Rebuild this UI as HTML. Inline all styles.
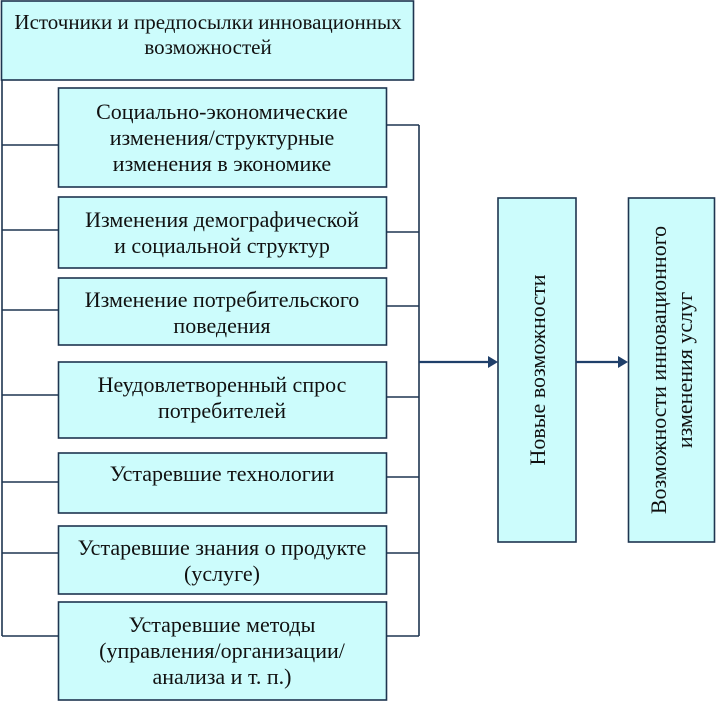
<!DOCTYPE html>
<html><head><meta charset="utf-8"><style>
body{margin:0;background:#fff;width:716px;height:703px;overflow:hidden}
svg text{font-family:"Liberation Serif",serif;font-size:22px;fill:#111}
</style></head><body>
<svg width="716" height="703" xmlns="http://www.w3.org/2000/svg">
<g fill="#ccfcfc" stroke="#1e3550" stroke-width="1.6">
<rect x="1.5" y="1" width="412" height="79"/>
<rect x="58.5" y="88" width="328" height="99"/>
<rect x="58.5" y="197" width="328" height="71"/>
<rect x="58.5" y="278" width="328" height="67"/>
<rect x="58.5" y="362" width="328" height="76"/>
<rect x="58.5" y="453" width="328" height="60"/>
<rect x="58.5" y="526" width="328" height="68"/>
<rect x="58.5" y="602" width="328" height="98"/>
<rect x="498" y="198" width="78" height="344"/>
<rect x="628.5" y="198" width="86" height="344"/>
</g>
<g stroke="#1e3550" stroke-width="1.6" fill="none">
<path d="M2 80V636"/>
<path d="M2 145H58M2 230H58M2 310H58M2 395H58M2 482H58M2 553H58M2 636H58"/>
<path d="M419 125V636"/>
<path d="M386 125H419M386 232H419M386 306H419M386 397H419M386 477H419M386 553H419M386 636H419"/>
<path d="M419 362H490M576 362H621" stroke="#1f3f6a" stroke-width="2.2"/>
</g>
<path d="M498 362L488 356V368Z M628 362L618 356V368Z" fill="#1f3f6a"/>
<g text-anchor="middle">
<text x="208" y="29" style="font-size:21px">Источники и предпосылки инновационных</text>
<text x="208" y="54" style="font-size:21px">возможностей</text>
<text x="222" y="119">Социально-экономические</text>
<text x="222" y="145">изменения/структурные</text>
<text x="222" y="171">изменения в экономике</text>
<text x="222" y="227">Изменения демографической</text>
<text x="222" y="253">и социальной структур</text>
<text x="222" y="307">Изменение потребительского</text>
<text x="222" y="333">поведения</text>
<text x="222" y="392">Неудовлетворенный спрос</text>
<text x="222" y="418">потребителей</text>
<text x="222" y="481">Устаревшие технологии</text>
<text x="222" y="555">Устаревшие знания о продукте</text>
<text x="222" y="581">(услуге)</text>
<text x="222" y="632">Устаревшие методы</text>
<text x="222" y="658">(управления/организации/</text>
<text x="222" y="684">анализа и т. п.)</text>
<text transform="translate(545,370) rotate(-90)">Новые возможности</text>
<text transform="translate(666,370) rotate(-90)">Возможности инновационного</text>
<text transform="translate(692,370) rotate(-90)">изменения услуг</text>
</g>
</svg>
</body></html>
